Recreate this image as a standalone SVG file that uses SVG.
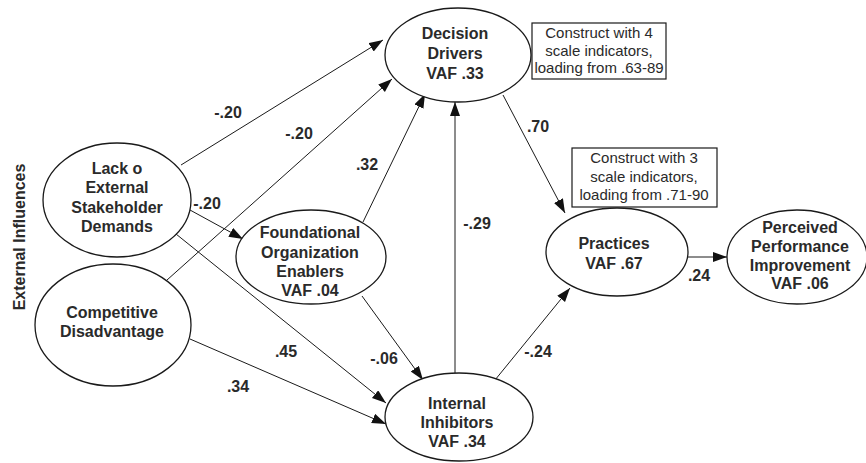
<svg xmlns="http://www.w3.org/2000/svg" width="866" height="463" viewBox="0 0 866 463">
<style>
.node ellipse{fill:#fff;stroke:#1a1a1a;stroke-width:1.3}
.nt{font-family:"Liberation Sans",Arial,sans-serif;font-weight:bold;font-size:16px;fill:#2a2a2a;text-anchor:middle}
.lbl{font-family:"Liberation Sans",Arial,sans-serif;font-weight:bold;font-size:16px;fill:#2a2a2a;text-anchor:middle}
.bt{font-family:"Liberation Sans",Arial,sans-serif;font-size:15px;fill:#2a2a2a;text-anchor:middle}
.box rect{fill:#fff;stroke:#1a1a1a;stroke-width:1.2}
#connectors line{stroke:#1a1a1a;stroke-width:1;marker-end:url(#ah)}
</style>
<defs>
<marker id="ah" markerUnits="userSpaceOnUse" markerWidth="15" markerHeight="12" refX="14" refY="5" orient="auto">
<path d="M0,0 L14,5 L0,10 z" fill="#111"/>
</marker>
</defs>
<rect width="866" height="463" fill="#fff"/>
<text class="lbl" transform="translate(25,237) rotate(-90)">External Influences</text>
<g id="connectors">
<line x1="181" y1="165" x2="383" y2="40"/>
<line x1="167" y1="280" x2="392" y2="79"/>
<line x1="190" y1="210" x2="243" y2="239"/>
<line x1="176" y1="234" x2="386" y2="403"/>
<line x1="190" y1="339" x2="386" y2="424"/>
<line x1="363" y1="222" x2="425" y2="94"/>
<line x1="362" y1="296" x2="423" y2="380"/>
<line x1="455" y1="373" x2="455" y2="102"/>
<line x1="495" y1="380" x2="570" y2="288"/>
<line x1="503" y1="95" x2="565" y2="213"/>
<line x1="688" y1="257" x2="727" y2="257"/>
</g>
<g id="labels">
<text class="lbl" x="228" y="118">-.20</text>
<text class="lbl" x="299" y="139">-.20</text>
<text class="lbl" x="207" y="209">-.20</text>
<text class="lbl" x="286" y="357">.45</text>
<text class="lbl" x="238" y="392">.34</text>
<text class="lbl" x="367" y="170">.32</text>
<text class="lbl" x="384" y="364">-.06</text>
<text class="lbl" x="477" y="229">-.29</text>
<text class="lbl" x="538" y="357">-.24</text>
<text class="lbl" x="538" y="132">.70</text>
<text class="lbl" x="699" y="281">.24</text>
</g>
<g id="lack" class="node">
<ellipse cx="117" cy="200" rx="74" ry="57"/>
<text class="nt" x="117" y="174">Lack o</text>
<text class="nt" x="117" y="193">External</text>
<text class="nt" x="117" y="213">Stakeholder</text>
<text class="nt" x="117" y="232">Demands</text>
</g>
<g id="competitive" class="node">
<ellipse cx="113" cy="325" rx="78" ry="61"/>
<text class="nt" x="112" y="318">Competitive</text>
<text class="nt" x="112" y="337">Disadvantage</text>
</g>
<g id="decision" class="node">
<ellipse cx="458" cy="55" rx="73" ry="47"/>
<text class="nt" x="455" y="39">Decision</text>
<text class="nt" x="455" y="59">Drivers</text>
<text class="nt" x="455" y="79">VAF .33</text>
</g>
<g id="foundational" class="node">
<ellipse cx="311" cy="257" rx="75" ry="47"/>
<text class="nt" x="310" y="238">Foundational</text>
<text class="nt" x="310" y="258">Organization</text>
<text class="nt" x="310" y="277">Enablers</text>
<text class="nt" x="310" y="296">VAF .04</text>
</g>
<g id="internal" class="node">
<ellipse cx="459" cy="417" rx="74" ry="44"/>
<text class="nt" x="457" y="409">Internal</text>
<text class="nt" x="457" y="428">Inhibitors</text>
<text class="nt" x="457" y="447">VAF .34</text>
</g>
<g id="practices" class="node">
<ellipse cx="617" cy="252" rx="71" ry="44"/>
<text class="nt" x="614" y="249">Practices</text>
<text class="nt" x="614" y="269">VAF .67</text>
</g>
<g id="perceived" class="node">
<ellipse cx="797" cy="257" rx="70" ry="47"/>
<text class="nt" x="800" y="233">Perceived</text>
<text class="nt" x="800" y="252">Performance</text>
<text class="nt" x="800" y="271">Improvement</text>
<text class="nt" x="800" y="289">VAF .06</text>
</g>
<g id="note1" class="box">
<rect x="532" y="23" width="134" height="56"/>
<text class="bt" x="599" y="38">Construct with 4</text>
<text class="bt" x="599" y="56">scale indicators,</text>
<text class="bt" x="599" y="73">loading from .63-89</text>
</g>
<g id="note2" class="box">
<rect x="572" y="148" width="145" height="59"/>
<text class="bt" x="644" y="163">Construct with 3</text>
<text class="bt" x="644" y="182">scale indicators,</text>
<text class="bt" x="644" y="200">loading from .71-90</text>
</g>
</svg>
